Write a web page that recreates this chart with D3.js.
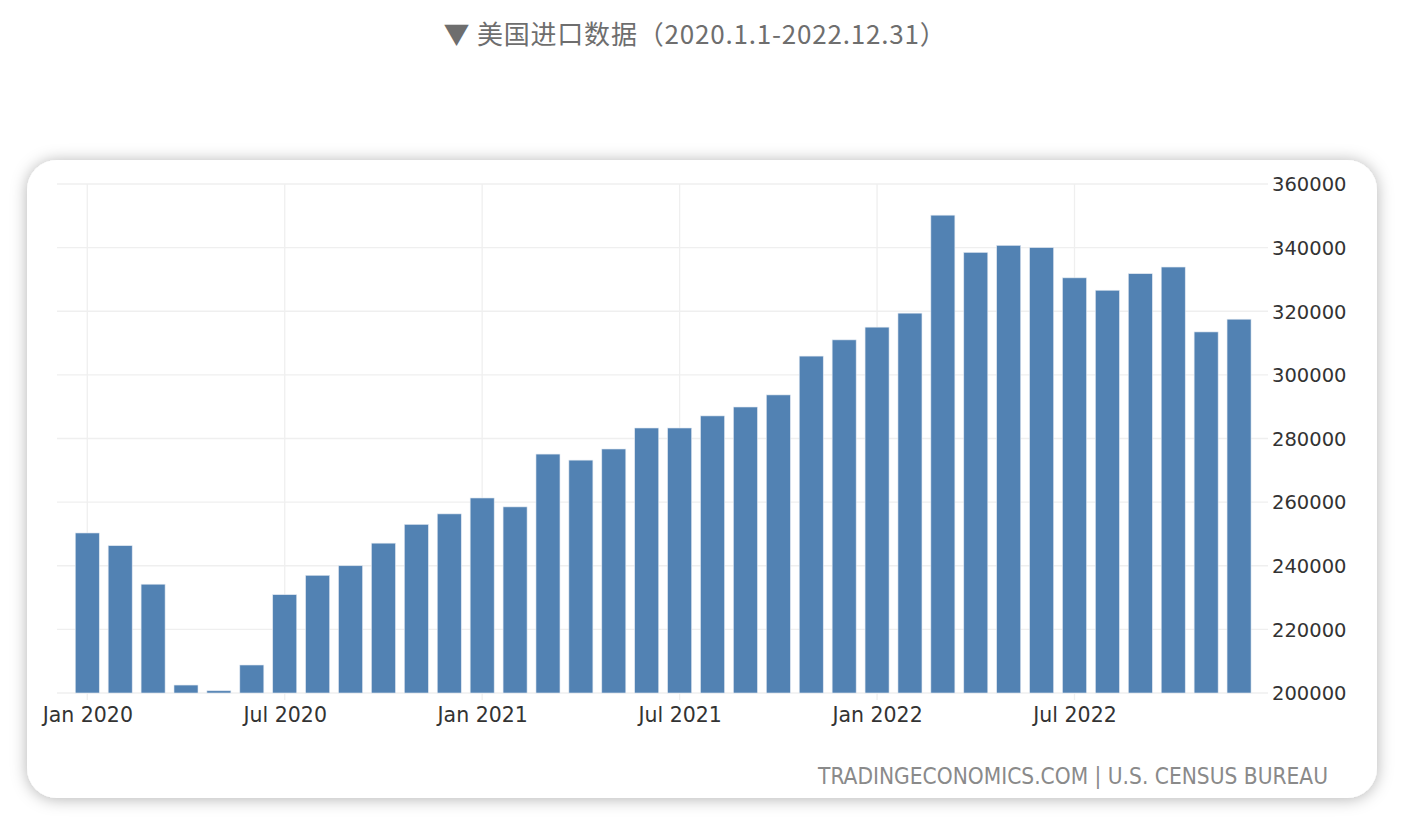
<!DOCTYPE html>
<html><head><meta charset="utf-8">
<script src="https://cdn.jsdelivr.net/npm/d3@7"></script>
<style>
html,body{margin:0;padding:0;background:#fff;}
svg{display:block;}
</style></head>
<body>
<svg id="chart" width="1404" height="824"></svg>
<script>
const months = ["Jan 2020","Feb 2020","Mar 2020","Apr 2020","May 2020","Jun 2020","Jul 2020","Aug 2020","Sep 2020","Oct 2020","Nov 2020","Dec 2020",
"Jan 2021","Feb 2021","Mar 2021","Apr 2021","May 2021","Jun 2021","Jul 2021","Aug 2021","Sep 2021","Oct 2021","Nov 2021","Dec 2021",
"Jan 2022","Feb 2022","Mar 2022","Apr 2022","May 2022","Jun 2022","Jul 2022","Aug 2022","Sep 2022","Oct 2022","Nov 2022","Dec 2022"];
const imports = [250300,246300,234200,202500,200700,208800,230900,237000,240000,247100,253000,256300,
261300,258500,275100,273200,276700,283300,283300,287100,289900,293700,305900,311000,
315000,319400,350200,338500,340700,340000,330500,326600,331800,333900,313500,317500];
const xTickLabels = ["Jan 2020","Jul 2020","Jan 2021","Jul 2021","Jan 2022","Jul 2022"];
const yTicks = [200000,220000,240000,260000,280000,300000,320000,340000,360000];
const titleText = "▼ 美国进口数据（2020.1.1-2022.12.31）";
const sourceText = "TRADINGECONOMICS.COM | U.S. CENSUS BUREAU";

const svg = d3.select("#chart");
const defs = svg.append("defs");
const f = defs.append("filter").attr("id","sh").attr("x","-10%").attr("y","-15%").attr("width","120%").attr("height","130%");
f.append("feDropShadow").attr("dx",0).attr("dy",1).attr("stdDeviation",8).attr("flood-color","#000").attr("flood-opacity",0.3);

svg.append("text").attr("x",695).attr("y",44).attr("text-anchor","middle")
  .attr("font-family","'Noto Sans CJK SC','Noto Sans',sans-serif").attr("font-size",26)
  .attr("letter-spacing","0.8px")
  .attr("fill","#6e6e6e").text(titleText);

svg.append("rect").attr("x",27).attr("y",160).attr("width",1350).attr("height",638)
  .attr("rx",30).attr("ry",30).attr("fill","#fff").attr("filter","url(#sh)");

const pL = 57, pR = 1268, pT = 184, pB = 693;
const x = d3.scaleLinear().domain([-0.92, 35.88]).range([pL, pR]);
const y = d3.scaleLinear().domain([200000, 360000]).range([pB, pT]);
const barW = 24;

const g = svg.append("g");
g.selectAll("line.h").data(yTicks).join("line")
  .attr("x1",pL).attr("x2",pR).attr("y1",d=>y(d)).attr("y2",d=>y(d))
  .attr("stroke","#efefef").attr("stroke-width",1.3);
const tickIdx = xTickLabels.map(l=>months.indexOf(l));
g.selectAll("line.v").data(tickIdx).join("line")
  .attr("x1",d=>x(d)).attr("x2",d=>x(d)).attr("y1",pT).attr("y2",pB+7)
  .attr("stroke","#efefef").attr("stroke-width",1.3);

g.selectAll("rect.bar").data(imports).join("rect")
  .attr("x",(d,i)=>x(i)-barW/2).attr("width",barW)
  .attr("y",d=>y(d)).attr("height",d=>y(200000)-y(d))
  .attr("fill","#5282b3").attr("stroke","#dfe7f0").attr("stroke-width",0.6);

const yAxis = d3.axisRight(y).tickValues(yTicks).tickSize(0).tickPadding(0).tickFormat(d3.format("d"));
const ya = svg.append("g").attr("transform",`translate(${pR+4},0)`).call(yAxis);
ya.select(".domain").remove();
ya.selectAll("text").attr("font-family","'DejaVu Sans',sans-serif").attr("font-size",19.5).attr("fill","#333").attr("dy","0.35em");

const xAxis = d3.axisBottom(x).tickValues(tickIdx).tickSize(0).tickPadding(0).tickFormat((d)=>months[d]);
const xa = svg.append("g").attr("transform",`translate(0,${pB+14})`).call(xAxis);
xa.select(".domain").remove();
xa.selectAll("text").attr("font-family","'DejaVu Sans',sans-serif").attr("font-size",20.5).attr("fill","#333").attr("dy","0.71em");

svg.append("text").attr("x",1328).attr("y",784).attr("text-anchor","end")
  .attr("font-family","'DejaVu Sans Condensed','DejaVu Sans',sans-serif").attr("font-size",22.5)
  .attr("fill","#8a8a8a").text(sourceText);
</script>
</body></html>
